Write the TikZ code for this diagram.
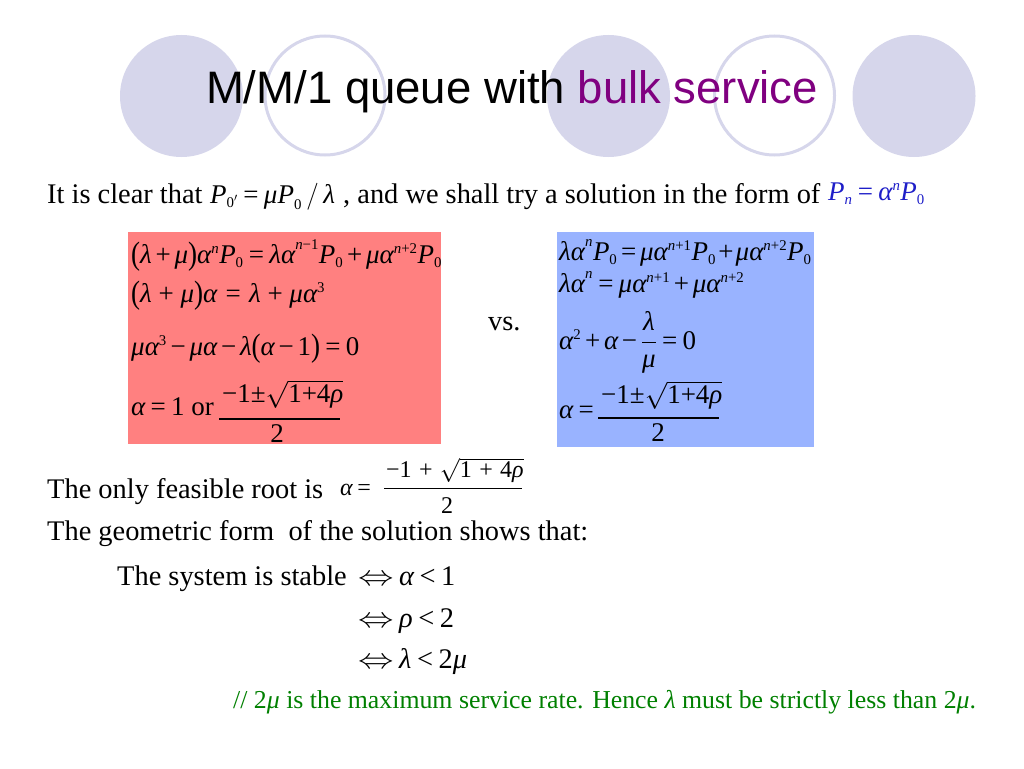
\documentclass[tikz,border=0pt]{standalone}
\usepackage{fix-cm}
\usepackage{amsmath}
\usepackage{graphicx}
\usepackage{fontspec}
\setmainfont{Liberation Serif}
\newfontfamily\arialf{Liberation Sans}
\renewcommand\defaultscriptratio{.55}
\renewcommand\defaultscriptscriptratio{.42}
\thickmuskip=3.5mu\relax
\medmuskip=2.5mu\relax
\usetikzlibrary{shapes.geometric}
\definecolor{lav}{RGB}{214,214,235}
\definecolor{titlepurple}{RGB}{128,0,128}
\definecolor{redfill}{RGB}{255,128,128}
\definecolor{bluefill}{RGB}{153,179,255}
\definecolor{formblue}{RGB}{30,30,200}
\definecolor{notegreen}{RGB}{0,128,0}
\newcommand\mvi[1]{\text{\itshape #1}}
\newcommand\mvr[1]{\text{#1}}
\newcommand\myEq{\mathrel{\text{=}}}
\newcommand\myLt{\mathrel{\text{<}}}
\newcommand\myPl{\mathbin{\text{+}}}
\newcommand\myPo{\mathord{\text{+}}}
\newcommand\myMi{\mathbin{\text{−}}}
\newcommand\myPm{\mathord{\text{±}}}
\newcommand\myNg{\mathord{\text{−}}}
\newcommand\myIff{\mathrel{\scalebox{1.25}[1]{$\Leftrightarrow$}}}
\newcommand\myLp{\mathopen{\raisebox{-1.5pt}{\scalebox{1}[1.2]{(}}}}
\newcommand\myRp{\mathclose{\raisebox{-1.5pt}{\scalebox{1}[1.2]{)}}}}
\begin{document}
\begin{tikzpicture}[x=1pt,y=-1pt,
  dot/.style={ellipse, minimum width=123pt, minimum height=122pt, inner sep=0pt},
  fulldot/.style={dot, fill=lav},
  ringdot/.style={dot, draw=lav, line width=3pt, minimum width=120pt, minimum height=119pt},
  body/.style={font=\fontsize{28.4}{34}\selectfont, inner sep=0pt, anchor=base west},
  boxmath/.style={font=\fontsize{27}{32}\selectfont, inner sep=0pt, anchor=base west},
  smallmath/.style={font=\fontsize{24}{29}\selectfont, inner sep=0pt, anchor=base west},
  note/.style={font=\fontsize{25.8}{30}\selectfont, inner sep=0pt, anchor=base west, text=notegreen},
  eqbox/.style={rectangle, inner sep=0pt, anchor=north west},
  fracbar/.style={line width=1.2pt}
]
\useasboundingbox (0,0) rectangle (1024,768);
% decorative circles
\node[fulldot] (c1) at (181.5,96) {};
\node[ringdot] (c2) at (325,95.5) {};
\node[fulldot] (c3) at (608.5,96) {};
\node[ringdot] (c4) at (774.5,95.5) {};
\node[fulldot] (c5) at (914,96) {};
% title
\node[font=\arialf\fontsize{45.5}{50}\selectfont, inner sep=0pt, anchor=base] (title) at (512,103)
  {M/M/1 queue with \textcolor{titlepurple}{bulk service}};
% first line
\node[body] (l1a) at (47,203) {It is clear that};
\node[boxmath] (l1b) at (210,203) {$\mvi{P}_{\mvr{0}'}\myEq\mvi{μP}_{\mvr{0}}\,/\,\mvi{λ}$};
\node[body] (l1c) at (343,203) {, and we shall try a solution in the form of};
\node[boxmath, text=formblue] (l1d) at (828,200) {$\mvi{P}_{\mvi{n}}\myEq\mvi{α}^{\mvi{n}}\mvi{P}_{\mvr{0}}$};
% boxes
\node[eqbox, fill=redfill, minimum width=313pt, minimum height=212pt] (red) at (128,232) {};
\node[eqbox, fill=bluefill, minimum width=257pt, minimum height=215pt] (blue) at (557,232) {};
% red equations
\node[boxmath] (r1) at (131,263) {$\myLp\mvi{λ}\myPl\mvi{μ}\myRp\mvi{α}^{\mvi{n}}\mvi{P}_{\mvr{0}}\myEq\mvi{λα}^{\mvi{n}\myMi\mvr{1}}\mvi{P}_{\mvr{0}}\myPl\mvi{μα}^{\mvi{n}\myPl\mvr{2}}\mvi{P}_{\mvr{0}}$};
\node[boxmath] (r2) at (131,302) {$\myLp\mvi{λ}\mkern2mu\myPl\mkern2mu\mvi{μ}\myRp\mvi{α}\mkern2mu\myEq\mkern2mu\mvi{λ}\mkern2mu\myPl\mkern2mu\mvi{μα}^{\mvr{3}}$};
\node[boxmath] (r3) at (131,355) {$\mvi{μα}^{\mvr{3}}\myMi\mvi{μα}\myMi\mvi{λ}\myLp\mvi{α}\myMi\mvr{1}\myRp\myEq\mvr{0}$};
\node[boxmath] (r4a) at (131,415) {$\mvi{α}\myEq\mvr{1}$ or};
\node[boxmath] (r4n) at (222,402) {$\myNg\mvr{1}\myPm\smash[t]{\sqrt{\mvr{1}\myPo\mvr{4}\mvi{ρ}}}$};
\coordinate (r4y) at (0,419);
\draw[fracbar] ([xshift=-3pt]r4n.west |- r4y) -- ([xshift=-4pt]r4n.east |- r4y);
\node[boxmath, anchor=base] (r4d) at (277,442) {2};
% blue equations
\node[boxmath] (b1) at (559,260) {$\mvi{λα}^{\mvi{n}}\mvi{P}_{\mvr{0}}\mkern-1mu\myEq\mkern-1mu\mvi{μα}^{\mvi{n}\myPl\mvr{1}}\mvi{P}_{\mvr{0}}\mkern-1mu\myPl\mkern-1mu\mvi{μα}^{\mvi{n}\myPl\mvr{2}}\mvi{P}_{\mvr{0}}$};
\node[boxmath] (b2) at (559,292) {$\mvi{λα}^{\mvi{n}}\myEq\mvi{μα}^{\mvi{n}\myPl\mvr{1}}\myPl\mvi{μα}^{\mvi{n}\myPl\mvr{2}}$};
\node[boxmath] (b3) at (559,349) {$\mvi{α}^{\mvr{2}}\myPl\mvi{α}\myMi\dfrac{\mvi{λ}}{\mvi{μ}}\myEq\mvr{0}$};
\node[boxmath] (b4a) at (559,418) {$\mvi{α}\myEq$};
\node[boxmath] (b4n) at (601,403) {$\myNg\mvr{1}\myPm\smash[t]{\sqrt{\mvr{1}\myPo\mvr{4}\mvi{ρ}}}$};
\coordinate (b4y) at (0,418);
\draw[fracbar] ([xshift=-3pt]b4n.west |- b4y) -- ([xshift=-4pt]b4n.east |- b4y);
\node[boxmath, anchor=base] (b4d) at (658,441) {2};
\node[body] (vs) at (488,330) {vs.};
% lower text
\node[body] (root) at (47,498) {The only feasible root is};
\node[smallmath] (rootl) at (340,495) {$\mvi{α}\myEq$};
\node[smallmath] (rootn) at (386,477) {$\myNg\mvr{1}\,\myPl\,\smash[t]{\sqrt{\mvr{1}\,\myPl\,\mvr{4}\mvi{ρ}}}$};
\coordinate (rooty) at (0,488);
\draw[line width=1pt] ([xshift=-2pt]rootn.west |- rooty) -- ([xshift=-2pt]rootn.east |- rooty);
\node[smallmath, anchor=base] (rootd) at (447,513) {2};
\node[body] (geo) at (47,540) {The geometric form\ \ of the solution shows that:};
\node[body] (stab) at (117,585) {The system is stable};
\node[body] (s1) at (358,585) {$\myIff\mvi{α}\myLt\mvr{1}$};
\node[body] (s2) at (358,627) {$\myIff\mvi{ρ}\myLt\mvr{2}$};
\node[body] (s3) at (358,668) {$\myIff\mvi{λ}\myLt\mvr{2}\mvi{μ}$};
\node[note] (cmt) at (233,708) {// 2\textit{μ} is the maximum service rate. Hence \textit{λ} must be strictly less than 2\textit{μ}.};
\end{tikzpicture}
\end{document}
